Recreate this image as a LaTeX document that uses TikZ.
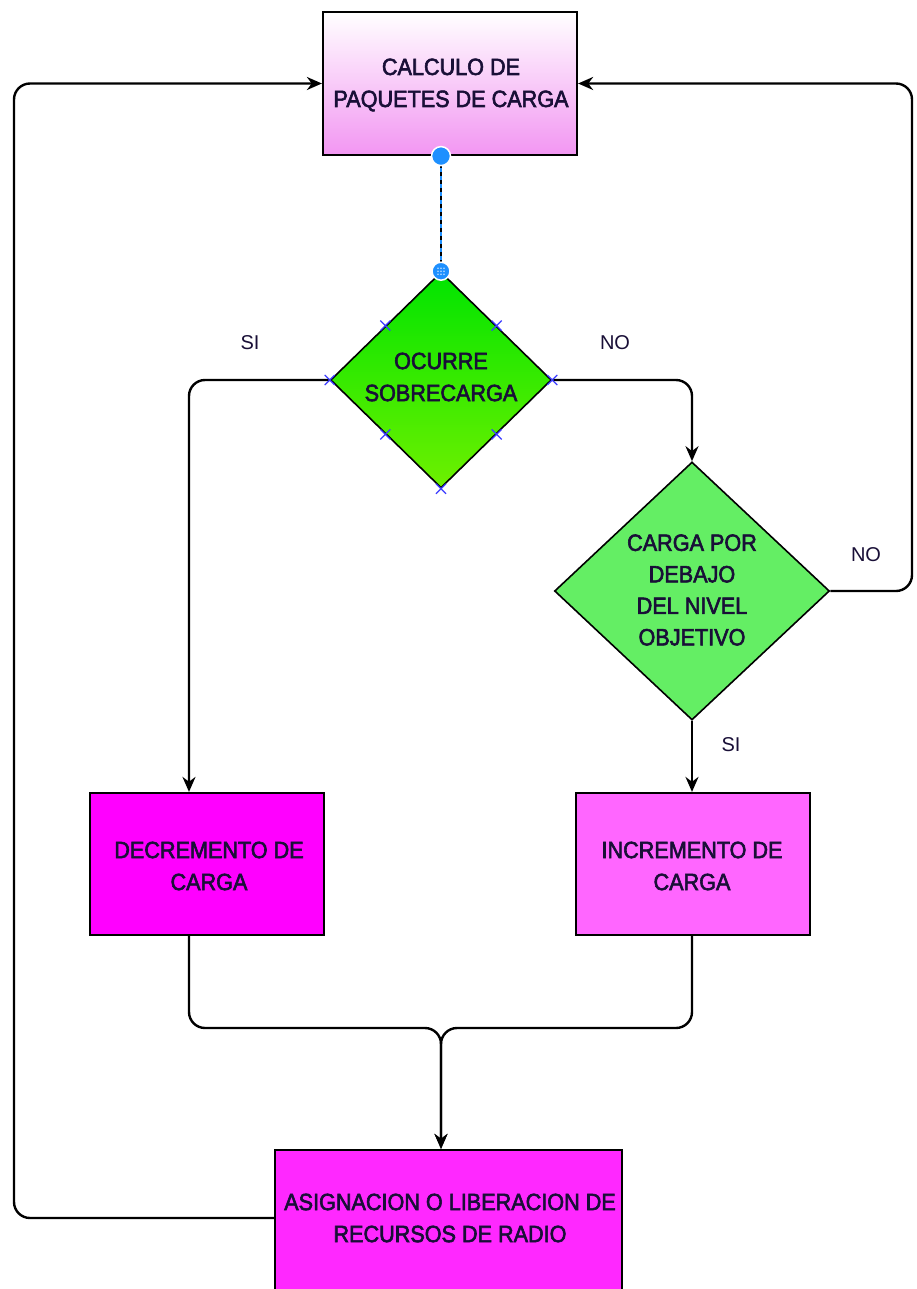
\documentclass[tikz,border=0pt]{standalone}
\usepackage{fontspec}
\setmainfont{Liberation Sans}
\newfontfamily\boxfont{Liberation Sans}[FakeStretch=0.92,FakeBold=2.5]
\usetikzlibrary{shapes.geometric,arrows.meta,calc}
\definecolor{pinkA}{RGB}{242,150,242}
\definecolor{greenT}{RGB}{0,228,0}
\definecolor{greenB}{RGB}{110,240,0}
\definecolor{greenD}{RGB}{100,238,100}
\definecolor{magA}{RGB}{255,0,255}
\definecolor{magB}{RGB}{255,102,255}
\definecolor{magC}{RGB}{255,40,255}
\definecolor{handle}{RGB}{30,144,255}
\definecolor{xmark}{RGB}{60,60,255}
\definecolor{txt}{RGB}{25,15,55}
\begin{document}
\begin{tikzpicture}[x=1pt,y=-1pt,
  procbox/.style={draw=black, line width=2.2pt, rectangle, inner sep=0pt},
  decbox/.style={draw=black, line width=1.6pt, diamond, inner sep=0pt},
  btext/.style={align=center, text=txt, font=\boxfont\fontsize{23.5}{32}\selectfont, inner sep=0pt},
  lbl/.style={text=txt, font=\fontsize{20}{24}\selectfont, inner sep=0pt},
  conn/.style={line width=2.4pt, rounded corners=16pt, -{Stealth[length=15pt,width=13pt]}},
  xm/.style={xmark, line width=1.2pt}]
\clip (0,0) rectangle (916,1289);
\fill[white] (0,0) rectangle (916,1289);

% nodes
\node[procbox, top color=white, bottom color=pinkA, minimum width=254pt, minimum height=143pt] (calc) at (450,83.5) {};
\node[btext] (tcalc) at (451,85) {CALCULO DE\\PAQUETES DE CARGA};

\node[decbox, top color=greenT, bottom color=greenB, minimum width=221pt, minimum height=216pt] (d1) at (441,380) {};
\node[btext] (td1) at (441,377) {OCURRE\\SOBRECARGA};

\node[decbox, fill=greenD, minimum width=275pt, minimum height=258pt] (d2) at (692,591) {};
\node[btext, font=\boxfont\fontsize{23.5}{31.5}\selectfont] (td2) at (692,590) {CARGA POR\\DEBAJO\\DEL NIVEL\\OBJETIVO};

\node[procbox, fill=magA, minimum width=234pt, minimum height=142pt] (dec) at (207,864) {};
\node[btext] (tdec) at (209,866) {DECREMENTO DE\\CARGA};

\node[procbox, fill=magB, minimum width=234pt, minimum height=142pt] (inc) at (693,864) {};
\node[btext] (tinc) at (692,866) {INCREMENTO DE\\CARGA};

\node[procbox, fill=magC, minimum width=347pt, minimum height=180pt] (asg) at (448.5,1240) {};
\node[btext] (tasg) at (450,1218) {ASIGNACION O LIBERACION DE\\RECURSOS DE RADIO};

% labels
\node[lbl] (l1) at (250,343) {SI};
\node[lbl] (l2) at (615,343) {NO};
\node[lbl] (l3) at (866,555) {NO};
\node[lbl] (l4) at (731,745) {SI};

% helper coordinates
\coordinate (mg) at (441,1028);
\coordinate (rt) at (912,300);
\coordinate (lf) at (14,600);
\coordinate (dcx) at (189,0);
\coordinate (hs) at (d1.north |- calc.south);
\coordinate (aw) at (asg.west |- tasg);
\coordinate (ain) at (mg |- asg.north);
\coordinate (dn) at (dcx |- dec.north);
\coordinate (ds) at (dcx |- dec.south);
\coordinate (inn) at (d2.south |- inc.north);
\coordinate (ins) at (d2.south |- inc.south);

% connectors
\draw[conn] (d1.west) -| (dn);
\draw[conn] (d1.east) -| (d2.north);
\draw[conn] (d2.south) -- (inn);
\draw[conn] (d2.east) -| (rt) |- (calc.east);
\draw[conn] (aw) -| (lf) |- (calc.west);
\draw[conn] (ds) |- (mg) -- (ain);
\draw[conn] (ins) |- (mg) -- (ain);

% selected connector (dashed) with handles
\draw[handle, line width=2pt] (hs) -- (d1.north);
\draw[black, line width=2pt, dash pattern=on 4pt off 4pt] (hs) -- (d1.north);
\filldraw[fill=handle, draw=white, line width=1.5pt] (hs) circle (9.5);
\filldraw[fill=handle, draw=white, line width=1.5pt] (d1.north) circle (9);
\foreach \dx in {-3,0,3} \foreach \dy in {-3,0,3}
  \fill[white!70!handle] ($(d1.north)+(\dx,\dy)$) circle (0.9);

% x marks on diamond
\foreach \p in {($(d1.north)!0.5!(d1.west)$),($(d1.north)!0.5!(d1.east)$),
  (d1.west),(d1.east),($(d1.south)!0.5!(d1.west)$),($(d1.south)!0.5!(d1.east)$),(d1.south)}
  \draw[xm] \p +(-5,-5) -- +(5,5) +(-5,5) -- +(5,-5);
\end{tikzpicture}
\end{document}
